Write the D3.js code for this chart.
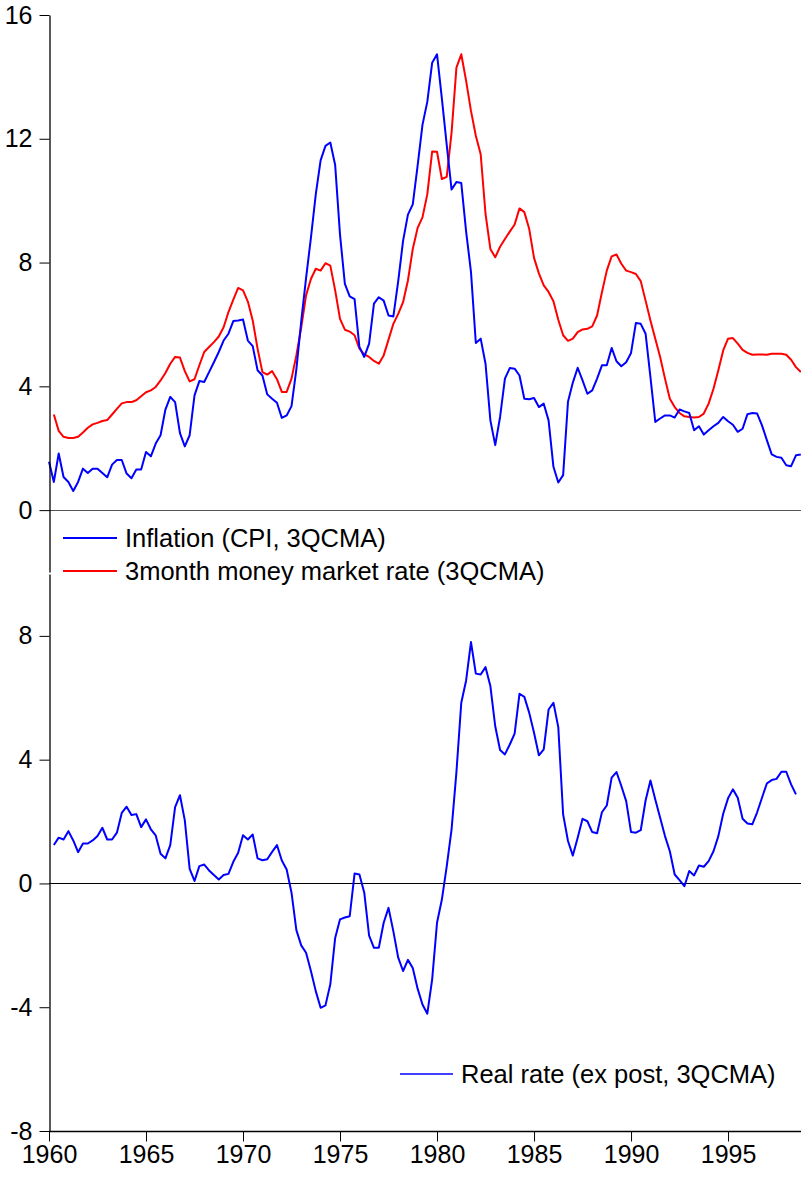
<!DOCTYPE html>
<html>
<head>
<meta charset="utf-8">
<script src="https://cdnjs.cloudflare.com/ajax/libs/d3/7.8.5/d3.min.js"></script>
<style>
    body { margin: 0; background: #fff; }
    svg { display: block; font-family: "Liberation Sans", Arial, sans-serif; }
</style>
</head>
<body>
<svg></svg>
<script>
var width = 801,
    height = 1179

// quarterly data, first value = 1960Q1
var START_YEAR = 1960

var inflation = [
    1.56, 0.91, 1.83, 1.07,
    0.91, 0.62, 0.91, 1.34,
    1.20, 1.34, 1.34, 1.20,
    1.06, 1.47, 1.62, 1.62,
    1.18, 1.03, 1.31, 1.31,
    1.88, 1.74, 2.15, 2.42,
    3.25, 3.66, 3.49, 2.49,
    2.06, 2.42, 3.71, 4.17,
    4.14, 4.46, 4.78, 5.11,
    5.48, 5.70, 6.11, 6.13,
    6.16, 5.48, 5.30, 4.52,
    4.35, 3.74, 3.60, 3.47,
    2.98, 3.06, 3.36, 4.55,
    6.10, 7.50, 8.80, 10.2,
    11.3, 11.77, 11.88, 11.15,
    8.90, 7.31, 6.91, 6.82,
    5.27, 4.95, 5.38, 6.67,
    6.88, 6.77, 6.29, 6.26,
    7.40, 8.70, 9.55, 9.88,
    11.13, 12.45, 13.2, 14.46,
    14.73, 13.3, 11.8, 10.36,
    10.6, 10.57, 9.00, 7.70,
    5.40, 5.54, 4.73, 2.90,
    2.10, 3.01, 4.25, 4.59,
    4.57, 4.35, 3.60, 3.58,
    3.62, 3.33, 3.44, 2.90,
    1.40, 0.89, 1.13, 3.50,
    4.12, 4.60, 4.19, 3.76,
    3.87, 4.25, 4.68, 4.68,
    5.24, 4.81, 4.65, 4.78,
    5.08, 6.05, 6.02, 5.70,
    4.30, 2.85, 2.96, 3.06,
    3.06, 2.99, 3.25, 3.19,
    3.14, 2.58, 2.71, 2.44,
    2.58, 2.71, 2.82, 3.01,
    2.87, 2.76, 2.53, 2.63,
    3.10, 3.14, 3.12, 2.74,
    2.26, 1.80, 1.72, 1.69,
    1.45, 1.42, 1.77, 1.80
]

var moneyRate = [
    null, 3.09, 2.56, 2.37,
    2.33, 2.33, 2.37, 2.51,
    2.66, 2.77, 2.82, 2.88,
    2.91, 3.09, 3.27, 3.45,
    3.49, 3.49, 3.55, 3.68,
    3.81, 3.87, 3.98, 4.19,
    4.43, 4.73, 4.95, 4.93,
    4.49, 4.16, 4.23, 4.68,
    5.11, 5.27, 5.43, 5.61,
    5.91, 6.40, 6.80, 7.18,
    7.10, 6.74, 6.13, 5.22,
    4.46, 4.38, 4.49, 4.23,
    3.82, 3.82, 4.25, 5.00,
    5.90, 6.94, 7.47, 7.80,
    7.74, 7.98, 7.90, 7.10,
    6.18, 5.83, 5.77, 5.65,
    5.22, 5.03, 4.95, 4.82,
    4.73, 5.00, 5.51, 6.02,
    6.34, 6.72, 7.42, 8.44,
    9.12, 9.46, 10.21, 11.59,
    11.58, 10.7, 10.77, 12.2,
    14.3, 14.73, 13.87, 12.9,
    12.1, 11.5, 9.57, 8.44,
    8.17, 8.51, 8.76, 9.00,
    9.23, 9.75, 9.63, 9.09,
    8.15, 7.65, 7.26, 7.05,
    6.75, 6.15, 5.65, 5.47,
    5.54, 5.75, 5.84, 5.86,
    5.94, 6.29, 7.04, 7.74,
    8.20, 8.26, 7.96, 7.74,
    7.69, 7.63, 7.40, 6.77,
    6.13, 5.54, 4.95, 4.25,
    3.60, 3.33, 3.14, 3.03,
    3.01, 2.99, 3.01, 3.12,
    3.44, 3.92, 4.52, 5.16,
    5.54, 5.56, 5.38, 5.18,
    5.08, 5.02, 5.03, 5.03,
    5.02, 5.05, 5.05, 5.05,
    5.02, 4.86, 4.62, 4.46
]

var realRate = [
    null, 1.24, 1.48, 1.42,
    1.69, 1.39, 1.01, 1.29,
    1.29, 1.39, 1.53, 1.80,
    1.42, 1.42, 1.64, 2.28,
    2.48, 2.21, 2.24, 1.82,
    2.07, 1.75, 1.55, 0.96,
    0.81, 1.24, 2.47, 2.85,
    2.04, 0.47, 0.08, 0.56,
    0.61, 0.42, 0.27, 0.13,
    0.27, 0.31, 0.70, 0.99,
    1.56, 1.42, 1.58, 0.81,
    0.75, 0.78, 1.02, 1.24,
    0.74, 0.45, -0.30, -1.51,
    -2.00, -2.24, -2.83, -3.48,
    -4.02, -3.94, -3.26, -1.76,
    -1.16, -1.10, -1.06, 0.32,
    0.29, -0.30, -1.69, -2.08,
    -2.08, -1.27, -0.79, -1.55,
    -2.40, -2.83, -2.47, -2.73,
    -3.40, -3.91, -4.21, -3.10,
    -1.27, -0.52, 0.55, 1.75,
    3.60, 5.84, 6.56, 7.80,
    6.78, 6.75, 6.99, 6.38,
    5.08, 4.31, 4.17, 4.49,
    4.84, 6.13, 6.03, 5.52,
    4.87, 4.14, 4.33, 5.62,
    5.84, 5.05, 2.23, 1.37,
    0.90, 1.48, 2.09, 2.01,
    1.66, 1.62, 2.30, 2.52,
    3.42, 3.60, 3.15, 2.66,
    1.66, 1.64, 1.72, 2.68,
    3.33, 2.71, 2.12, 1.53,
    1.04, 0.29, 0.11, -0.09,
    0.40, 0.26, 0.58, 0.54,
    0.72, 1.04, 1.53, 2.25,
    2.75, 3.04, 2.77, 2.09,
    1.94, 1.91, 2.30, 2.77,
    3.23, 3.34, 3.38, 3.61,
    3.61, 3.20, 2.88, null
]

var yearTicks = [1960, 1965, 1970, 1975, 1980, 1985, 1990, 1995]
var topTicks = [0, 4, 8, 12, 16]
var bottomTicks = [-8, -4, 0, 4, 8]
var topLabels = ["Inflation (CPI, 3QCMA)", "3month money market rate (3QCMA)"]
var bottomLabels = ["Real rate (ex post, 3QCMA)"]

var BLUE = "#0000ff", RED = "#ff0000"
var FONT = "'Liberation Sans', Arial, sans-serif"

var xScale = d3.scaleLinear()
    .domain([START_YEAR, 1998.75])
    .range([49, 800.8])

var yTop = d3.scaleLinear().domain([-2, 16]).range([572, 15])
var yBottom = d3.scaleLinear().domain([-8, 10]).range([1131, 574])

function toPoints(values) {
    return values.map(function(v, i) {
        return [START_YEAR + i / 4, v]
    })
}

function drawSeries(canvas, values, yScale, color) {
    var line = d3.line()
        .defined(function(d) { return d[1] != null })
        .x(function(d) { return xScale(d[0]) })
        .y(function(d) { return yScale(d[1]) })
    canvas.append("path")
        .datum(toPoints(values))
        .attr("fill", "none")
        .attr("stroke", color)
        .attr("stroke-width", 2)
        .attr("stroke-linejoin", "round")
        .attr("d", line)
}

function drawYAxis(canvas, yScale, ticks) {
    var g = canvas.append("g")
        .attr("transform", "translate(49.5,0)")
        .call(d3.axisLeft(yScale).tickValues(ticks)
            .tickFormat(function(d) { return String(d) })   // plain hyphen, not unicode minus
            .tickSize(10).tickSizeOuter(0).tickPadding(7))
    g.select(".domain").attr("stroke", "#000").attr("stroke-width", 1.3)
    g.selectAll(".tick line").attr("stroke", "#000")
    g.selectAll("text").attr("font-size", 25).attr("fill", "#000")
        .attr("font-family", FONT)
    return g
}

function drawZeroLine(canvas, yScale, color) {
    canvas.append("line")
        .attr("x1", 49).attr("x2", width)
        .attr("y1", Math.round(yScale(0)) + 0.5)
        .attr("y2", Math.round(yScale(0)) + 0.5)
        .attr("stroke", color)
        .attr("stroke-width", 1.2)
}

function drawLegend(canvas, labels, colors, x, y, step, lineLen, strokeW) {
    labels.forEach(function(label, i) {
        var ly = y + i * step
        canvas.append("line")
            .attr("x1", x).attr("x2", x + lineLen)
            .attr("y1", ly).attr("y2", ly)
            .attr("stroke", colors[i])
            .attr("stroke-width", strokeW)
        canvas.append("text")
            .attr("x", x + lineLen + 8)
            .attr("y", ly)
            .attr("dy", "0.36em")
            .attr("font-size", 25.5)
            .attr("fill", "#000")
            .text(label)
    })
}

function drawGraph() {
    var canvas = d3.select("svg")
        .attr("width", width)
        .attr("height", height)

    // top panel
    drawZeroLine(canvas, yTop, "#555")
    drawSeries(canvas, moneyRate, yTop, RED)
    drawSeries(canvas, inflation, yTop, BLUE)
    drawYAxis(canvas, yTop, topTicks)
    drawLegend(canvas, topLabels, [BLUE, RED], 63, 538, 33, 54, 2)

    // bottom panel
    drawZeroLine(canvas, yBottom, "#000")
    drawSeries(canvas, realRate, yBottom, BLUE)
    drawYAxis(canvas, yBottom, bottomTicks)
    drawLegend(canvas, bottomLabels, [BLUE], 400, 1074, 0, 53, 1.6)

    var xAxis = canvas.append("g")
        .attr("transform", "translate(0," + 1131.5 + ")")
        .call(d3.axisBottom(xScale).tickValues(yearTicks).tickFormat(d3.format("d"))
            .tickSize(10).tickSizeOuter(0).tickPadding(4))
    xAxis.select(".domain").attr("stroke", "#000").attr("stroke-width", 1.3)
        .attr("d", "M49,0H" + width)
    xAxis.selectAll(".tick line").attr("stroke", "#000")
    xAxis.selectAll("text").attr("font-size", 25).attr("fill", "#000")
        .attr("font-family", FONT)
}

drawGraph()
</script>
</body>
</html>
